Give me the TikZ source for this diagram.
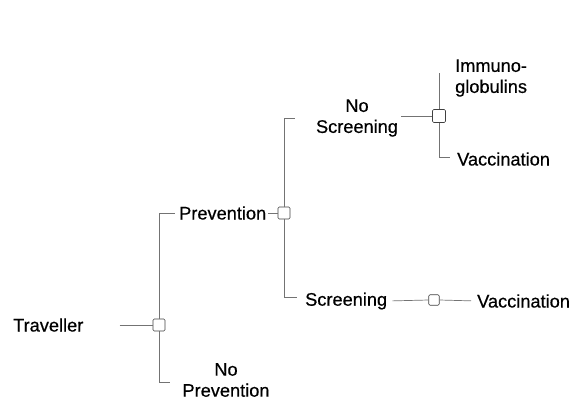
\documentclass[tikz,border=0pt]{standalone}
\usepackage{fontspec}
\setmainfont[FakeBold=0.5]{Liberation Sans}
\begin{document}
\begin{tikzpicture}[x=1pt,y=-1pt,
  lbl/.style={inner sep=0pt,font=\fontsize{18.2}{21}\selectfont,text=black},
  dec/.style={draw=black!75,line width=0.6pt,rounded corners=1.2pt,minimum size=#1,inner sep=0pt},
  dec/.default=12pt,
  conn/.style={draw=black!55,line width=0.7pt}]
\useasboundingbox (0,0) rectangle (575,400);
% labels
\node[lbl,anchor=west] (trav) at (13,325) {Traveller};
\node[lbl,anchor=west] (prev) at (179,213) {Prevention};
\node[lbl,align=center] (noprev) at (226,380) {No\\Prevention};
\node[lbl,align=center] (noscr) at (357,118) {No\\Screening};
\node[lbl,anchor=west] (scr) at (305,301) {Screening};
\node[lbl,align=left,anchor=west] (immuno) at (455,78) {Immuno-\\globulins};
\node[lbl,anchor=west] (vac1) at (457,159) {Vaccination};
\node[lbl,anchor=west] (vac2) at (477,301) {Vaccination};
% decision boxes
\node[dec] (d1) at (159,325) {};
\node[dec] (d2) at (284,213) {};
\node[dec=13pt] (d3) at (439,116) {};
\node[dec=10.5pt] (d4) at (434,300) {};
% free ends
\coordinate (c1) at (175,213);
\coordinate (c2) at (170,382);
\coordinate (c3) at (295,118);
\coordinate (c4) at (297,297);
\coordinate (c5) at (439,73);
\coordinate (c6) at (450,157);
% connectors
\draw[conn,shorten <=36pt] (trav.east) -- (d1.west);
\draw[conn] (d1.north) |- (c1);
\draw[conn] (d1.south) |- (c2);
\draw[conn,shorten <=1.5pt] (prev.east) -- (d2.west);
\draw[conn] (d2.north) |- (c3);
\draw[conn] (d2.south) |- (c4);
\draw[conn,shorten <=3pt] (d3.west -| noscr.east) -- (d3.west);
\draw[conn] (d3.north) -- (c5);
\draw[conn] (d3.south) |- (c6);
\draw[conn,shorten <=5pt] (scr.east) -- (d4.west);
\draw[conn,shorten >=6pt] (d4.east) -- (vac2.west);
\end{tikzpicture}
\end{document}
